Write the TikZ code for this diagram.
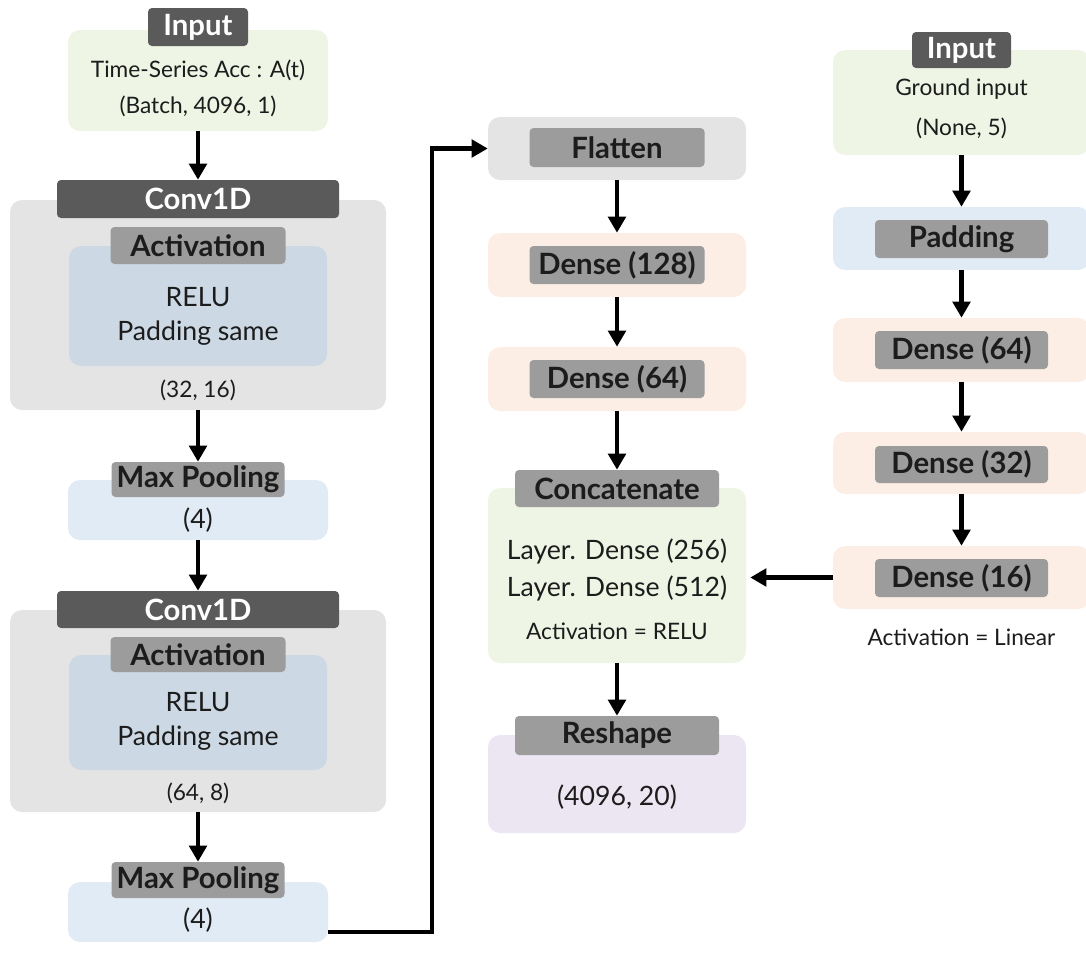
\documentclass[tikz,border=0pt]{standalone}
\usepackage{fontspec}
\setmainfont{Lato}
\usetikzlibrary{arrows.meta,fit}
\definecolor{darklbl}{HTML}{5A5A5A}
\definecolor{midlbl}{HTML}{9C9C9C}
\definecolor{convgray}{HTML}{E4E4E4}
\definecolor{actblue}{HTML}{CCD9E4}
\definecolor{poolblue}{HTML}{E1EBF5}
\definecolor{ingreen}{HTML}{EEF5E5}
\definecolor{peach}{HTML}{FCEEE5}
\definecolor{lilac}{HTML}{ECE6F3}
\definecolor{ink}{HTML}{1C1C1C}
\newlength\pxu
\setlength\pxu{0.75pt}
\begin{document}
\begin{tikzpicture}[x=0.75pt,y=-0.75pt,
  cont/.style={rounded corners=9pt,inner sep=0pt,draw=none},
  lbl/.style 2 args={rounded corners=3pt,inner sep=0pt,minimum width=#1\pxu,minimum height=#2\pxu,
    font=\fontsize{22}{26}\selectfont\bfseries},
  dark/.style={fill=darklbl,text=white},
  mid/.style={fill=midlbl,text=ink},
  big/.style={inner sep=0pt,text=ink,font=\fontsize{20}{24}\selectfont},
  body/.style={inner sep=0pt,text=ink,font=\fontsize{17}{20}\selectfont},
  arr/.style={line width=3.3pt,-{Triangle[length=12pt,width=13pt]}}]
\useasboundingbox (0,0) rectangle (1086,964);

% ---- left column: convolution branch ----
\node[cont,fill=ingreen,fit={(68,30)(328,131)}] (in1) {};
\node[lbl={100}{38},dark] (in1l) at (198,27) {Input};
\node[body] (in1a) at (198,70) {Time-Series Acc : A(t)};
\node[body] (in1b) at (198,106) {(Batch, 4096, 1)};

\node[cont,fill=convgray,fit={(10,200)(386,410)}] (cv1) {};
\node[lbl={282}{38},dark] (cv1l) at (198,199) {Conv1D};
\node[cont,fill=actblue,fit={(69,246)(327,366)}] (ac1) {};
\node[lbl={175}{37},mid] (ac1l) at (198,245.5) {Activation};
\node[big] (ac1a) at (198,297) {RELU};
\node[big] (ac1b) at (198,333) {Padding same};
\node[body] (cv1o) at (198,390) {(32, 16)};

\node[cont,fill=poolblue,fit={(68,480)(328,540)}] (mp1) {};
\node[lbl={173}{35},mid] (mp1l) at (198,479.5) {Max Pooling};
\node[big] (mp1a) at (198,520) {(4)};

\node[cont,fill=convgray,fit={(10,610)(386,812)}] (cv2) {};
\node[lbl={282}{37},dark] (cv2l) at (198,609.5) {Conv1D};
\node[cont,fill=actblue,fit={(69,655)(327,770)}] (ac2) {};
\node[lbl={175}{35},mid] (ac2l) at (198,654.5) {Activation};
\node[big] (ac2a) at (198,702) {RELU};
\node[big] (ac2b) at (198,738) {Padding same};
\node[body] (cv2o) at (198,793) {(64, 8)};

\node[cont,fill=poolblue,fit={(68,882)(328,942)}] (mp2) {};
\node[lbl={173}{36},mid] (mp2l) at (198,880) {Max Pooling};
\node[big] (mp2a) at (198,920) {(4)};

% ---- middle column: dense head ----
\node[cont,fill=convgray,fit={(488,117)(746,180)}] (fl) {};
\node[lbl={175}{39},mid] (fll) at (617,147.5) {Flatten};
\node[cont,fill=peach,fit={(488,233)(746,297)}] (d128) {};
\node[lbl={175}{38},mid] (d128l) at (617,265) {Dense (128)};
\node[cont,fill=peach,fit={(488,347)(746,411)}] (d64) {};
\node[lbl={175}{38},mid] (d64l) at (617,379) {Dense (64)};
\node[cont,fill=ingreen,fit={(488,488)(746,663)}] (cc) {};
\node[lbl={204}{37},mid] (ccl) at (617,488.5) {Concatenate};
\node[big] (cca) at (617,551) {Layer. Dense (256)};
\node[big] (ccb) at (617,588) {Layer. Dense (512)};
\node[body] (ccc) at (617,631) {Activation = RELU};
\node[cont,fill=lilac,fit={(488,735)(746,833)}] (rs) {};
\node[lbl={204}{39},mid] (rsl) at (617,735.5) {Reshape};
\node[big] (rsa) at (617,797) {(4096, 20)};

% ---- right column: ground input branch ----
\node[cont,fill=ingreen,fit={(833,50)(1090,155)}] (in2) {};
\node[lbl={99}{36},dark] (in2l) at (961.5,50) {Input};
\node[body] (in2a) at (961.5,89) {Ground input};
\node[body] (in2b) at (961.5,128) {(None, 5)};
\node[cont,fill=poolblue,fit={(833,207)(1090,270)}] (pd) {};
\node[lbl={173}{38},mid] (pdl) at (961.5,239) {Padding};
\node[cont,fill=peach,fit={(833,318)(1090,382)}] (r64) {};
\node[lbl={173}{38},mid] (r64l) at (961.5,350) {Dense (64)};
\node[cont,fill=peach,fit={(833,432)(1090,494)}] (r32) {};
\node[lbl={173}{37},mid] (r32l) at (961.5,464.5) {Dense (32)};
\node[cont,fill=peach,fit={(833,546)(1090,609)}] (r16) {};
\node[lbl={173}{38},mid] (r16l) at (961.5,578) {Dense (16)};
\node[body] (lin) at (961.5,637) {Activation = Linear};

% ---- connectors ----
\coordinate (turn) at (432,148.5);
\draw[arr] (in1.south) -- (cv1l.north);
\draw[arr] (cv1.south) -- (mp1l.north);
\draw[arr] (mp1.south) -- (cv2l.north);
\draw[arr] (cv2.south) -- (mp2l.north);
\draw[arr] ([yshift=-15pt]mp2.east) -| (turn) -- (fl.west);
\draw[arr] (fl.south) -- (d128.north);
\draw[arr] (d128.south) -- (d64.north);
\draw[arr] (d64.south) -- (ccl.north);
\draw[arr] (cc.south) -- (rsl.north);
\draw[arr] (in2.south) -- (pd.north);
\draw[arr] (pd.south) -- (r64.north);
\draw[arr] (r64.south) -- (r32.north);
\draw[arr] (r32.south) -- (r16.north);
\draw[arr,shorten >=3pt] (r16.west) -- (r16.west -| cc.east);
\end{tikzpicture}
\end{document}
